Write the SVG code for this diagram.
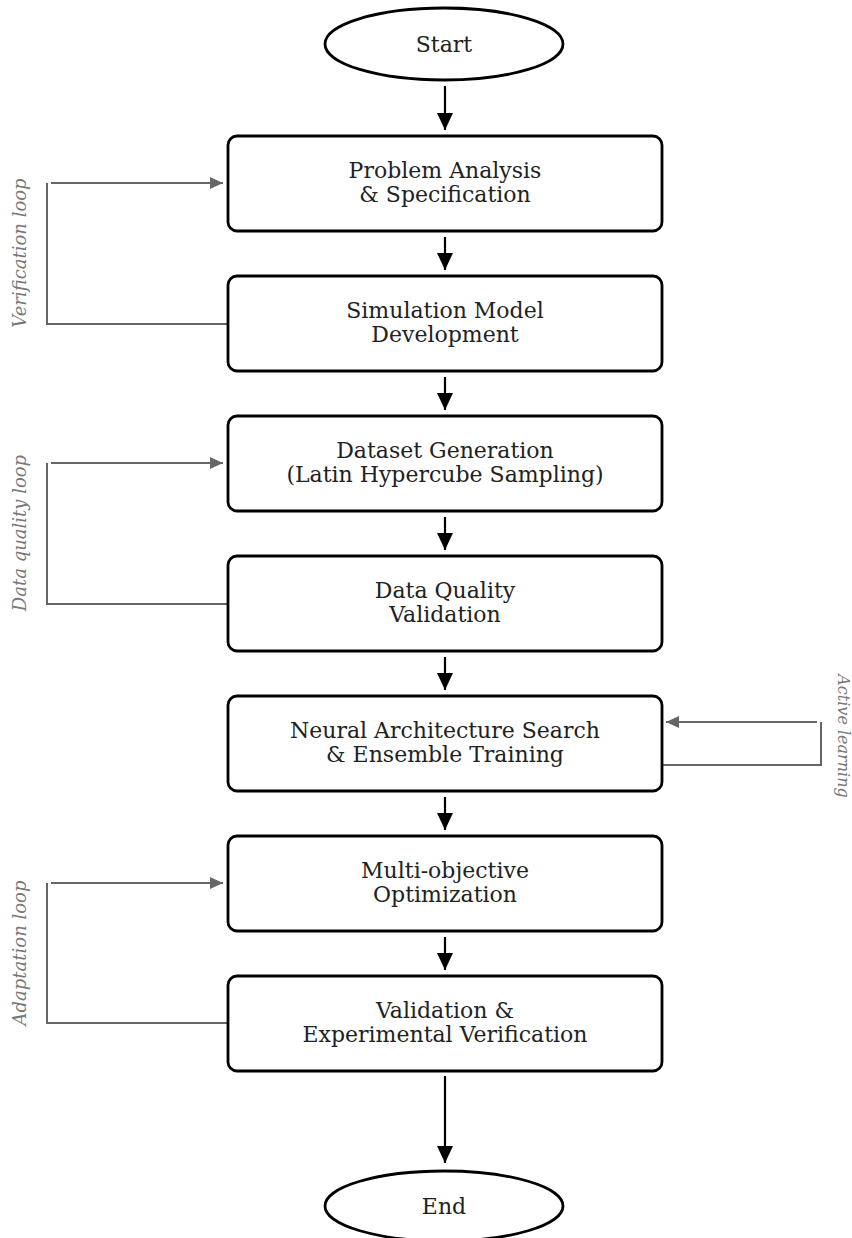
<svg xmlns="http://www.w3.org/2000/svg" width="852" height="1238" viewBox="0 0 852 1238">
<style>
.box{fill:#fff;stroke:#000;stroke-width:2.8}
.t{font-family:"DejaVu Serif",serif;font-size:22px;fill:#222;text-anchor:middle}
.lbl{font-family:"DejaVu Serif",serif;font-style:italic;font-size:18px;fill:#777;text-anchor:middle}
.lbl2{font-size:16px}
.flow{stroke:#000;stroke-width:2.2;fill:none}
.loop{stroke:#666;stroke-width:2;fill:none}
</style>
<defs>
<marker id="ag" viewBox="0 0 13 12" markerWidth="13" markerHeight="12" refX="13" refY="6" orient="auto" markerUnits="userSpaceOnUse"><path d="M0,0 L13,6 L0,12 Z" fill="#666"/></marker>
<marker id="abk" viewBox="0 0 17 16" markerWidth="17" markerHeight="16" refX="17" refY="8" orient="auto" markerUnits="userSpaceOnUse"><path d="M0,0 L17,8 L0,16 Z" fill="#000"/></marker>
</defs>
<rect width="852" height="1238" fill="#fff"/>
<g id="connectors">
<line class="flow" x1="445" y1="86" x2="445" y2="130" marker-end="url(#abk)"/>
<line class="flow" x1="445" y1="237" x2="445" y2="270" marker-end="url(#abk)"/>
<line class="flow" x1="445" y1="377" x2="445" y2="410" marker-end="url(#abk)"/>
<line class="flow" x1="445" y1="517" x2="445" y2="550" marker-end="url(#abk)"/>
<line class="flow" x1="445" y1="657" x2="445" y2="690" marker-end="url(#abk)"/>
<line class="flow" x1="445" y1="797" x2="445" y2="830" marker-end="url(#abk)"/>
<line class="flow" x1="445" y1="937" x2="445" y2="970" marker-end="url(#abk)"/>
<line class="flow" x1="445" y1="1076" x2="445" y2="1163" marker-end="url(#abk)"/>
<polyline class="loop" points="230,324 47,324 47,183"/>
<line class="loop" x1="51" y1="183" x2="223" y2="183" marker-end="url(#ag)"/>
<polyline class="loop" points="230,604 47,604 47,463"/>
<line class="loop" x1="51" y1="463" x2="223" y2="463" marker-end="url(#ag)"/>
<polyline class="loop" points="230,1023 47,1023 47,883"/>
<line class="loop" x1="51" y1="883" x2="223" y2="883" marker-end="url(#ag)"/>
<polyline class="loop" points="660,765 821,765 821,722"/>
<line class="loop" x1="817" y1="722" x2="666" y2="722" marker-end="url(#ag)"/>
<text class="lbl" transform="translate(26,253) rotate(-90)">Verification loop</text>
<text class="lbl" transform="translate(26,533) rotate(-90)">Data quality loop</text>
<text class="lbl" transform="translate(26,953) rotate(-90)">Adaptation loop</text>
<text class="lbl lbl2" transform="translate(838,736) rotate(90)">Active learning</text>
</g>
<g id="start"><ellipse cx="444" cy="44" rx="119" ry="36" fill="#fff" stroke="#000" stroke-width="2.8"/><text class="t" x="444" y="52">Start</text></g>
<g id="n1"><rect class="box" x="228" y="136" width="434" height="95" rx="9"/><text class="t" x="445" y="178">Problem Analysis</text><text class="t" x="445" y="202">&amp; Specification</text></g>
<g id="n2"><rect class="box" x="228" y="276" width="434" height="95" rx="9"/><text class="t" x="445" y="318">Simulation Model</text><text class="t" x="445" y="342">Development</text></g>
<g id="n3"><rect class="box" x="228" y="416" width="434" height="95" rx="9"/><text class="t" x="445" y="458">Dataset Generation</text><text class="t" x="445" y="482">(Latin Hypercube Sampling)</text></g>
<g id="n4"><rect class="box" x="228" y="556" width="434" height="95" rx="9"/><text class="t" x="445" y="598">Data Quality</text><text class="t" x="445" y="622">Validation</text></g>
<g id="n5"><rect class="box" x="228" y="696" width="434" height="95" rx="9"/><text class="t" x="445" y="738">Neural Architecture Search</text><text class="t" x="445" y="762">&amp; Ensemble Training</text></g>
<g id="n6"><rect class="box" x="228" y="836" width="434" height="95" rx="9"/><text class="t" x="445" y="878">Multi-objective</text><text class="t" x="445" y="902">Optimization</text></g>
<g id="n7"><rect class="box" x="228" y="976" width="434" height="95" rx="9"/><text class="t" x="445" y="1018">Validation &amp;</text><text class="t" x="445" y="1042">Experimental Verification</text></g>
<g id="end"><ellipse cx="444" cy="1206" rx="119" ry="35" fill="#fff" stroke="#000" stroke-width="2.8"/><text class="t" x="444" y="1214">End</text></g>
</svg>
